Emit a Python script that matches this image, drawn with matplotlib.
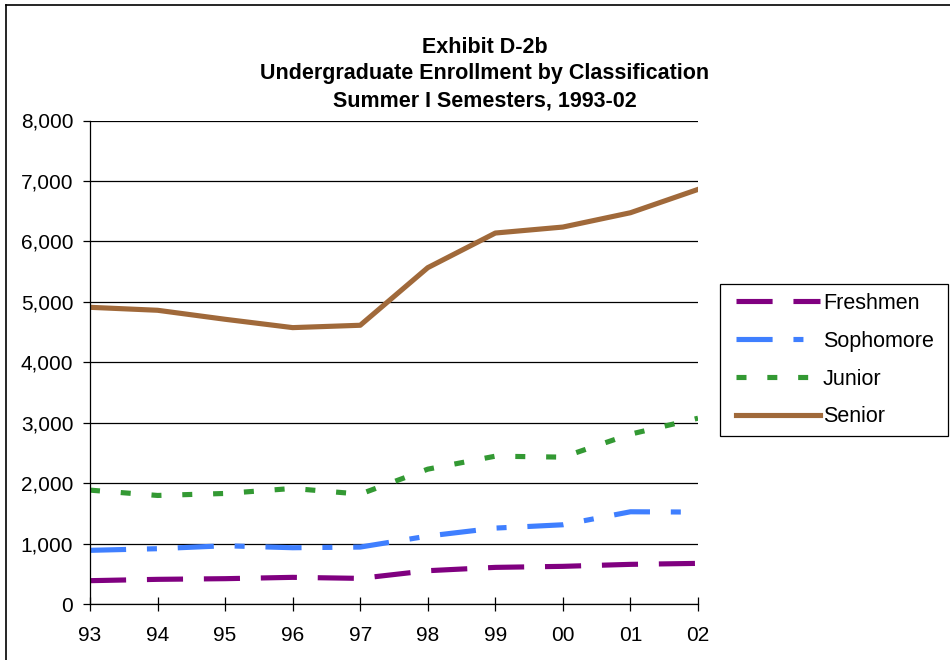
import matplotlib
matplotlib.use('Agg')
import matplotlib.pyplot as plt
from matplotlib.patches import Rectangle
from matplotlib.ticker import FuncFormatter, MultipleLocator

plt.rcParams['font.family'] = ['Liberation Sans', 'DejaVu Sans']
plt.rcParams['lines.scale_dashes'] = False

years = ['93', '94', '95', '96', '97', '98', '99', '00', '01', '02']
freshmen = [386, 408, 419, 441, 424, 551, 606, 623, 656, 672]
sophomore = [888, 915, 964, 931, 942, 1124, 1256, 1311, 1526, 1521]
junior = [1884, 1796, 1829, 1912, 1818, 2231, 2446, 2430, 2810, 3074]
senior = [4909, 4860, 4711, 4573, 4612, 5565, 6138, 6237, 6474, 6860]

W, H = 950, 660
fig = plt.figure(figsize=(W / 100, H / 100), dpi=100)
ax = fig.add_axes([90 / W, 1 - 604 / H, (698 - 90) / W, (604 - 120.5) / H])

x = range(len(years))
lw = 3.7
ax.plot(x, freshmen, color='#800080', lw=lw, dashes=(26, 15), label='Freshmen')
ax.plot(x, sophomore, color='#3F7FFF', lw=lw, dashes=(26, 15, 7.2, 15), label='Sophomore')
ax.plot(x, junior, color='#339933', lw=lw, dashes=(7.2, 15), label='Junior')
ax.plot(x, senior, color='#A0693A', lw=lw, label='Senior')

ax.set_xlim(0, len(years) - 1)
ax.set_ylim(0, 8000)
ax.set_xticks(list(x))
ax.set_xticklabels(years)
ax.yaxis.set_major_locator(MultipleLocator(1000))
ax.yaxis.set_major_formatter(FuncFormatter(lambda v, p: f'{int(v):,}'))
ax.grid(axis='y', color='black', lw=0.9)
ax.set_axisbelow(True)
for s in ['top', 'right']:
    ax.spines[s].set_visible(False)
ax.spines['left'].set_linewidth(0.9)
ax.spines['bottom'].set_linewidth(0.9)
ax.tick_params(axis='y', direction='out', length=5, width=0.9, labelsize=15, pad=7)
ax.tick_params(axis='x', direction='inout', length=10, width=0.9, labelsize=15, pad=11)

fig.text(485 / W, 1 - 74 / H,
         'Exhibit D-2b\nUndergraduate Enrollment by Classification\nSummer I Semesters, 1993-02',
         ha='center', va='center', fontsize=15.5, fontweight='bold', linespacing=1.37)

# legend box drawn by hand so the padding matches
fig.add_artist(Rectangle((720 / W, 1 - 436 / H), 228 / W, 152 / H, fill=False,
                         edgecolor='black', lw=0.9, transform=fig.transFigure))
ax.legend(loc='upper left', bbox_to_anchor=(736 / W, 1 - 293 / H),
          bbox_transform=fig.transFigure, fontsize=15.5, frameon=False,
          handlelength=3.9, handletextpad=0.14, labelspacing=0.78,
          borderpad=0, borderaxespad=0)

# frame around the chart area
fig.add_artist(plt.Line2D([6 / W, 6 / W], [0, 1 - 5 / H], color='black', lw=1.2,
                          transform=fig.transFigure))
fig.add_artist(plt.Line2D([6 / W, 1], [1 - 5 / H, 1 - 5 / H], color='black', lw=1.2,
                          transform=fig.transFigure))

fig.savefig('out.png', dpi=100)
